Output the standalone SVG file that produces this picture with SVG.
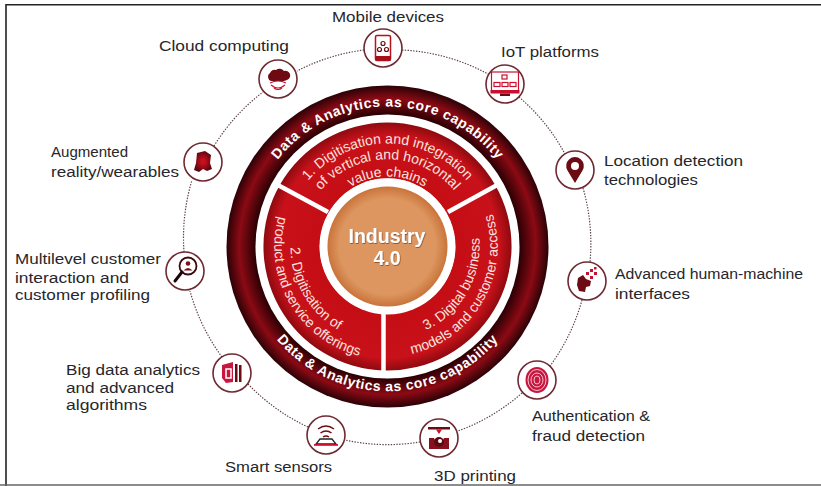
<svg xmlns="http://www.w3.org/2000/svg" width="821" height="486" viewBox="0 0 821 486">
<style>
text{font-family:"Liberation Sans",Arial,sans-serif}
.lab{font-size:15.5px;fill:#26262b}
.ring{font-size:14px;font-weight:700;fill:#fff}
.sec{font-size:14px;fill:#fbe3df}
.hub{font-size:19.5px;font-weight:700;fill:#fff;text-anchor:middle}
.disc{fill:#fff;stroke:#6e2a33;stroke-width:1.6}
.conn{fill:none;stroke:#5c4448;stroke-width:1.2;stroke-dasharray:1.4 1.4}
.ic{fill:#6d0a12}
.icr{fill:#c8102e}
.ol{fill:none;stroke:#6d0a12;stroke-width:1.5}
.olr{fill:none;stroke:#c8102e;stroke-width:1.2}
.div{stroke:#fff;stroke-width:4.5}
</style>
<defs>
<radialGradient id="gDark" gradientUnits="userSpaceOnUse" cx="387.5" cy="246.5" r="161">
<stop offset="0.82" stop-color="#2a0004"/><stop offset="0.92" stop-color="#8c0a14"/><stop offset="1" stop-color="#2a0206"/>
</radialGradient>
<radialGradient id="gRed" gradientUnits="userSpaceOnUse" cx="387.5" cy="246.5" r="124">
<stop offset="0.55" stop-color="#c50d14"/><stop offset="0.9" stop-color="#c8111a"/><stop offset="1" stop-color="#8e0a10"/>
</radialGradient>
<radialGradient id="gHub" cx="0.5" cy="0.5" r="0.5">
<stop offset="0.8" stop-color="#dd9660"/><stop offset="1" stop-color="#c9743a"/>
</radialGradient>
<radialGradient id="gAr" cx="0.5" cy="0.5" r="0.5">
<stop offset="0.2" stop-color="#c80f1e"/><stop offset="1" stop-color="#5e0710"/>
</radialGradient>
<filter id="soft" x="-10%" y="-20%" width="120%" height="140%"><feDropShadow dx="0.6" dy="0.8" stdDeviation="0.6" flood-color="#7a3a12" flood-opacity="0.9"/></filter>
<path id="pTop" d="M252.3 210.3A140 140 0 0 1 522.7 210.3"/>
<path id="pBot" d="M247.5 284A145 145 0 0 0 527.5 284"/>
<path id="s1a" d="M290.7 211.3A103 103 0 0 1 484.3 211.3"/>
<path id="s1b" d="M305.7 216.7A87 87 0 0 1 469.3 216.7"/>
<path id="s1c" d="M321.7 222.6A70 70 0 0 1 453.3 222.6"/>
<path id="s2a" d="M313.2 184.1A97 97 0 0 0 404.4 342"/>
<path id="s2b" d="M300.9 173.8A113 113 0 0 0 407.2 357.8"/>
<path id="s3a" d="M371.5 337.1A92 92 0 0 0 458 187.3"/>
<path id="s3b" d="M368.4 354.9A110 110 0 0 0 471.8 175.8"/>
</defs>
<rect width="821" height="486" fill="#fff"/>
<g id="frame" fill="none">
<path d="M6 486V4.8H821" stroke="#222" stroke-width="1.6"/>
<path d="M0 485H821" stroke="#666" stroke-width="1.6"/>
</g>
<g id="connectors">
<path class="conn" d="M364 50A200 200 0 0 0 297 71"/>
<path class="conn" d="M402 50A200 200 0 0 1 488 74"/>
<path class="conn" d="M519 97A200 200 0 0 1 565 154"/>
<path class="conn" d="M583 188A200 200 0 0 1 590 262"/>
<path class="conn" d="M582 300A200 200 0 0 1 550 366"/>
<path class="conn" d="M522 393A200 200 0 0 1 458 431"/>
<path class="conn" d="M420 442A200 200 0 0 1 345 440"/>
<path class="conn" d="M308 427A200 200 0 0 1 248 384"/>
<path class="conn" d="M222 357A200 200 0 0 1 190 291"/>
<path class="conn" d="M184 252A200 200 0 0 1 192 180"/>
<path class="conn" d="M214 146A200 200 0 0 1 263 92"/>
</g>
<g id="core">
<circle cx="387.5" cy="246.5" r="161" fill="url(#gDark)"/>
<circle cx="387.5" cy="246.5" r="132" fill="#fff"/>
<text class="ring" letter-spacing="0.6"><textPath href="#pTop" startOffset="50%" text-anchor="middle">Data &amp; Analytics as core capability</textPath></text>
<text class="ring" letter-spacing="0.6"><textPath href="#pBot" startOffset="50%" text-anchor="middle">Data &amp; Analytics as core capability</textPath></text>
</g>
<g id="sector-1">
<path d="M280.1 184.5A124 124 0 0 1 494.9 184.5L446 212.7A67 67 0 0 0 329 212.7Z" fill="url(#gRed)"/>
<text class="sec"><textPath href="#s1a" startOffset="50%" text-anchor="middle">1. Digitisation and integration</textPath></text>
<text class="sec"><textPath href="#s1b" startOffset="50%" text-anchor="middle">of vertical and horizontal</textPath></text>
<text class="sec"><textPath href="#s1c" startOffset="50%" text-anchor="middle">value chains</textPath></text>
</g>
<g id="sector-2">
<path d="M280.1 184.5A124 124 0 0 0 384 370.5V313.5A67 67 0 0 1 329 212.7Z" fill="url(#gRed)"/>
<text class="sec"><textPath href="#s2a" startOffset="50%" text-anchor="middle">2. Digitisation of</textPath></text>
<text class="sec"><textPath href="#s2b" startOffset="50%" text-anchor="middle">product and service offerings</textPath></text>
</g>
<g id="sector-3">
<path d="M494.9 184.5A124 124 0 0 1 384 370.5V313.5A67 67 0 0 0 446 212.7Z" fill="url(#gRed)"/>
<text class="sec"><textPath href="#s3a" startOffset="50%" text-anchor="middle">3. Digital business</textPath></text>
<text class="sec"><textPath href="#s3b" startOffset="50%" text-anchor="middle">models and customer access</textPath></text>
</g>
<g id="dividers">
<line class="div" x1="328" y1="212" x2="276" y2="184"/>
<line class="div" x1="448" y1="212" x2="499" y2="184"/>
<line class="div" x1="383.5" y1="310" x2="383.5" y2="374"/>
</g>
<g id="hub">
<circle cx="387.5" cy="246.5" r="68" fill="#fff"/>
<circle cx="387.5" cy="246.5" r="60" fill="url(#gHub)"/>
<text class="hub" x="387" y="243" filter="url(#soft)">Industry</text>
<text class="hub" x="387" y="265" filter="url(#soft)">4.0</text>
</g>
<g id="node-mobile">
<circle class="disc" cx="383" cy="48" r="19"/>
<rect class="ol" x="375.5" y="35.5" width="15" height="25" rx="1.5" style="stroke:#b5121b"/>
<rect class="ic" x="375.5" y="56" width="15" height="4.5" style="fill:#a80f18"/>
<g class="olr" style="stroke:#6d0a12"><circle cx="383" cy="43.5" r="2"/><circle cx="379.5" cy="49.5" r="2"/><circle cx="386.5" cy="49.5" r="2"/></g>
<text class="lab" x="332" y="22" textLength="112" lengthAdjust="spacingAndGlyphs">Mobile devices</text>
</g>
<g id="node-iot">
<circle class="disc" cx="505" cy="84" r="19"/>
<rect class="olr" x="491.5" y="72" width="27" height="19"/>
<rect class="icr" x="490.5" y="90" width="29" height="3.5"/>
<rect class="ic" x="500" y="93.5" width="10" height="2.5"/>
<g class="olr" stroke-width="1"><rect x="502" y="75" width="5" height="4"/><rect x="494" y="82.500" width="6" height="4"/><rect x="502" y="82.500" width="6" height="4"/><rect x="510" y="82.500" width="6" height="4"/></g>
<text class="lab" x="501" y="57" textLength="98" lengthAdjust="spacingAndGlyphs">IoT platforms</text>
</g>
<g id="node-location">
<circle class="disc" cx="575" cy="170" r="19"/>
<path class="ic" d="M575 183L567.500 170.500A8.800 8.800 0 1 1 582.500 170.500Z"/>
<circle cx="575" cy="166" r="4" fill="#fff"/>
<text class="lab" x="604" y="166" textLength="139" lengthAdjust="spacingAndGlyphs">Location detection</text>
<text class="lab" x="604" y="185" textLength="94" lengthAdjust="spacingAndGlyphs">technologies</text>
</g>
<g id="node-hmi">
<circle class="disc" cx="587" cy="281" r="19"/>
<path class="ic" d="M578 278L583 275L586 279L591 281L590 286L586 287L585 292L579 291L577 285Z"/>
<g class="icr"><rect x="586" y="272" width="3" height="3"/><rect x="590" y="269" width="3" height="3"/><rect x="594" y="272" width="3" height="3"/><rect x="590" y="276" width="3" height="3"/><rect x="594" y="267" width="2.500" height="2.500"/></g>
<text class="lab" x="615" y="279" textLength="188" lengthAdjust="spacingAndGlyphs">Advanced human-machine</text>
<text class="lab" x="615" y="299" textLength="75" lengthAdjust="spacingAndGlyphs">interfaces</text>
</g>
<g id="node-auth">
<circle class="disc" cx="537" cy="380" r="19"/>
<ellipse cx="537" cy="380" rx="11.500" ry="13" fill="#c8173f"/>
<g fill="none" stroke="#f7c2cf" stroke-width="1"><ellipse cx="537" cy="380" rx="3" ry="4"/><ellipse cx="537" cy="380" rx="6" ry="7"/><ellipse cx="537" cy="380" rx="9" ry="10.500"/></g>
<text class="lab" x="532" y="421" textLength="118" lengthAdjust="spacingAndGlyphs">Authentication &amp;</text>
<text class="lab" x="532" y="441" textLength="113" lengthAdjust="spacingAndGlyphs">fraud detection</text>
</g>
<g id="node-3d">
<circle class="disc" cx="439" cy="438" r="19"/>
<rect class="ic" x="428" y="427" width="22" height="2.500"/>
<path class="icr" d="M436 429.500H442L439 434Z"/>
<path class="ic" d="M429 438H434L436 442H442L444 438H449V449H429Z" style="fill:#8a0f1c"/>
<circle cx="439" cy="442" r="5" fill="#5a0a10"/>
<circle cx="440" cy="441" r="2" fill="#fff"/>
<text class="lab" x="434" y="481" textLength="82" lengthAdjust="spacingAndGlyphs">3D printing</text>
</g>
<g id="node-sensors">
<circle class="disc" cx="326" cy="435" r="19"/>
<g class="ol"><path d="M318 429Q326 423 334 429"/><path d="M320.500 433Q326 429 331.500 433"/><path d="M323 437Q326 435 329 437"/></g>
<path d="M320 439H332L336 444H316Z" fill="none" stroke="#222" stroke-width="1.300"/>
<rect class="icr" x="314" y="444" width="24" height="1.800"/>
<text class="lab" x="225" y="472" textLength="107" lengthAdjust="spacingAndGlyphs">Smart sensors</text>
</g>
<g id="node-bigdata">
<circle class="disc" cx="232" cy="373" r="19"/>
<path d="M222 365L233 362V382L226 383L222 378Z" fill="#c8173f"/>
<path class="ol" d="M226 369H231V378H226Z" stroke="#fff" style="stroke:#fff"/>
<g class="ic"><rect x="235" y="364" width="2.500" height="18"/><rect x="239" y="365" width="2.500" height="17"/></g>
<text class="lab" x="66" y="375" textLength="134" lengthAdjust="spacingAndGlyphs">Big data analytics</text>
<text class="lab" x="66" y="393" textLength="108" lengthAdjust="spacingAndGlyphs">and advanced</text>
<text class="lab" x="66" y="410" textLength="81" lengthAdjust="spacingAndGlyphs">algorithms</text>
</g>
<g id="node-multilevel">
<circle class="disc" cx="185" cy="271" r="19"/>
<circle cx="188" cy="266" r="8.500" fill="none" stroke="#3a0a0e" stroke-width="1.800"/>
<circle cx="188" cy="263.500" r="2.300" fill="#7a1018"/>
<path d="M183.500 270.500Q188 265.500 192.500 270.500Z" fill="#7a1018"/>
<line x1="182" y1="272" x2="175" y2="281" stroke="#1f0608" stroke-width="3" stroke-linecap="round"/>
<text class="lab" x="15" y="264" textLength="146" lengthAdjust="spacingAndGlyphs">Multilevel customer</text>
<text class="lab" x="15" y="283" textLength="114" lengthAdjust="spacingAndGlyphs">interaction and</text>
<text class="lab" x="15" y="300" textLength="135" lengthAdjust="spacingAndGlyphs">customer profiling</text>
</g>
<g id="node-ar">
<circle class="disc" cx="203" cy="162" r="19"/>
<path d="M197 153L205 151L211 155L210 163L212 169L207 171L203 169L199 172L194 170L196 163Z" fill="url(#gAr)"/>
<text class="lab" x="51" y="157" textLength="77" lengthAdjust="spacingAndGlyphs">Augmented</text>
<text class="lab" x="51" y="177" textLength="128" lengthAdjust="spacingAndGlyphs">reality/wearables</text>
</g>
<g id="node-cloud">
<circle class="disc" cx="278" cy="79" r="19"/>
<path class="ic" d="M271 81A4.500 4.500 0 0 1 270 73A4.500 4.500 0 0 1 276 70A5.500 5.500 0 0 1 284 71A4.500 4.500 0 0 1 287 80L284 81Z"/>
<g class="olr"><path d="M270 83Q278 79 286 83"/><path d="M271 85Q278 91 285 85"/><path d="M274 88Q278 91 282 88"/></g>
<text class="lab" x="159" y="51" textLength="130" lengthAdjust="spacingAndGlyphs">Cloud computing</text>
</g>
</svg>
